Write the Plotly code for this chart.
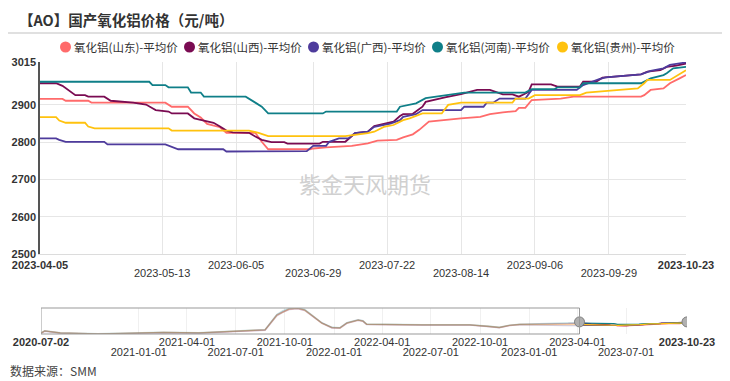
import plotly.graph_objects as go

# ---------------- main window data (2023-04-05 .. 2023-10-23) ----------------
sd_dates = ["2023-04-05","2023-04-12","2023-04-13","2023-04-20","2023-04-21","2023-05-14","2023-05-16","2023-05-21",
            "2023-05-23","2023-05-25","2023-05-27","2023-05-31","2023-06-02","2023-06-11","2023-06-13","2023-06-15",
            "2023-06-28","2023-06-29","2023-07-03","2023-07-11","2023-07-16","2023-07-19","2023-07-25","2023-07-27",
            "2023-07-30","2023-08-01","2023-08-04","2023-08-08","2023-08-14","2023-08-20","2023-08-23","2023-08-27",
            "2023-08-31","2023-09-01","2023-09-03","2023-09-05","2023-09-14","2023-09-18","2023-10-09","2023-10-10",
            "2023-10-12","2023-10-16","2023-10-18","2023-10-21","2023-10-23"]
sd_vals = [2916,2916,2911,2911,2906,2906,2895,2895,
           2877,2866,2849,2840,2825,2825,2801,2781,
           2781,2783,2786,2790,2797,2804,2806,2813,
           2821,2833,2855,2859,2864,2868,2875,2880,
           2883,2892,2892,2913,2917,2922,2922,2926,
           2940,2944,2958,2971,2980]

sx_dates = ["2023-04-05","2023-04-10","2023-04-12","2023-04-14","2023-04-16","2023-04-19","2023-04-20","2023-04-25",
            "2023-04-27","2023-05-04","2023-05-08","2023-05-10","2023-05-11","2023-05-15","2023-05-16","2023-05-21",
            "2023-05-23","2023-05-26","2023-05-29","2023-05-31","2023-06-02","2023-06-04","2023-06-09","2023-06-11",
            "2023-06-13","2023-06-16","2023-06-20","2023-06-21","2023-07-01","2023-07-02","2023-07-09","2023-07-12",
            "2023-07-16","2023-07-18","2023-07-22","2023-07-24","2023-07-26","2023-07-27","2023-07-30","2023-08-02",
            "2023-08-03","2023-08-06","2023-08-09","2023-08-14","2023-08-17","2023-08-19","2023-08-23","2023-08-25",
            "2023-08-27","2023-08-30","2023-09-01","2023-09-02","2023-09-04","2023-09-05","2023-09-11","2023-09-13",
            "2023-09-20","2023-09-21","2023-09-25","2023-09-27","2023-10-09","2023-10-11","2023-10-15","2023-10-17",
            "2023-10-20","2023-10-23"]
sx_vals = [2958,2958,2951,2938,2926,2926,2922,2922,
           2911,2906,2901,2891,2886,2882,2877,2877,
           2864,2858,2852,2842,2831,2826,2825,2815,
           2806,2800,2800,2796,2796,2801,2801,2824,
           2828,2843,2850,2855,2870,2875,2876,2895,
           2908,2913,2920,2929,2935,2940,2940,2934,
           2928,2928,2922,2926,2935,2955,2955,2949,
           2949,2962,2962,2973,2982,2989,2993,3002,
           3005,3011]

gx_dates = ["2023-04-05","2023-04-10","2023-04-11","2023-04-13","2023-04-25","2023-04-26","2023-05-14","2023-05-18",
            "2023-06-01","2023-06-02","2023-06-27","2023-06-29","2023-07-03","2023-07-04","2023-07-07","2023-07-10",
            "2023-07-12","2023-07-16","2023-07-18","2023-07-23","2023-07-26","2023-07-27","2023-07-31","2023-08-02",
            "2023-08-14","2023-08-15","2023-08-21","2023-08-22","2023-08-24","2023-08-26","2023-09-03","2023-09-05",
            "2023-09-19","2023-09-21","2023-09-26","2023-09-28","2023-10-09","2023-10-12","2023-10-16","2023-10-18",
            "2023-10-23"]
gx_vals = [2810,2810,2806,2801,2801,2794,2794,2781,
           2781,2775,2776,2790,2790,2801,2810,2810,
           2824,2828,2841,2850,2859,2868,2875,2886,
           2886,2895,2895,2906,2906,2917,2917,2940,
           2940,2953,2969,2974,2982,2991,2998,3007,
           3014]

hn_dates = ["2023-04-05","2023-05-09","2023-05-10","2023-05-14","2023-05-15","2023-05-21","2023-05-22","2023-05-25",
            "2023-05-26","2023-06-08","2023-06-11","2023-06-12","2023-06-13","2023-06-15","2023-07-02","2023-07-03",
            "2023-07-25","2023-07-26","2023-07-31","2023-08-03","2023-08-06","2023-08-10","2023-08-15","2023-09-03",
            "2023-09-05","2023-09-12","2023-09-13","2023-09-20","2023-09-21","2023-10-09","2023-10-12","2023-10-16",
            "2023-10-17","2023-10-19","2023-10-23"]
hn_vals = [2962,2962,2953,2953,2947,2947,2933,2933,
           2922,2922,2906,2900,2895,2877,2877,2882,
           2882,2895,2904,2918,2922,2928,2933,2933,
           2942,2942,2947,2947,2958,2958,2971,2980,
           2985,2998,3002]

gz_dates = ["2023-04-05","2023-04-10","2023-04-11","2023-04-13","2023-04-19","2023-04-20","2023-04-22","2023-05-15",
            "2023-05-16","2023-06-09","2023-06-12","2023-06-15","2023-07-09","2023-07-12","2023-07-16","2023-07-18",
            "2023-07-21","2023-07-24","2023-07-27","2023-07-29","2023-08-02","2023-08-08","2023-08-10","2023-08-14",
            "2023-08-30","2023-08-31","2023-09-04","2023-09-06","2023-09-20","2023-09-22","2023-10-08","2023-10-10",
            "2023-10-11","2023-10-18","2023-10-20","2023-10-23"]
gz_vals = [2867,2867,2858,2852,2852,2842,2837,2837,
           2831,2831,2825,2816,2816,2819,2824,2828,
           2841,2846,2859,2864,2877,2877,2900,2906,
           2906,2917,2917,2926,2926,2933,2944,2958,
           2967,2967,2978,2993]

# ---------------- overview (data-zoom) history, 2020-07-02 .. 2023-03 ----------------
hist_dates = ["2020-07-02","2020-07-09","2020-08-07","2020-10-16","2020-12-17","2021-02-16","2021-04-23","2021-06-24",
              "2021-07-28","2021-08-25","2021-09-16","2021-09-27","2021-10-09","2021-10-25","2021-11-07","2021-11-22",
              "2021-12-09","2021-12-28","2022-01-12","2022-01-25","2022-02-05","2022-02-15","2022-02-24","2022-03-03",
              "2022-06-15","2022-09-12","2022-10-19","2022-11-06","2022-11-25","2022-12-14","2023-03-15"]
sd_hist = [2330,2470,2350,2290,2330,2380,2350,2430,2500,2530,3420,3630,3800,3850,3740,3380,
           2960,2670,2650,2950,3030,3130,3070,2880,2840,2840,2740,2680,2810,2870,2890]
sx_hist = [2350,2480,2360,2300,2340,2390,2360,2440,2520,2550,3460,3660,3830,3870,3770,3400,
           2970,2690,2670,2970,3050,3150,3090,2890,2850,2850,2750,2690,2820,2880,2930]
gx_hist = [2320,2460,2340,2280,2320,2370,2340,2420,2490,2520,3400,3610,3780,3830,3730,3370,
           2950,2660,2640,2940,3020,3120,3060,2870,2830,2830,2730,2670,2800,2860,2800]
hn_hist = [2360,2490,2370,2310,2350,2400,2370,2450,2530,2560,3480,3700,3860,3910,3790,3420,
           2980,2700,2680,2980,3060,3160,3100,2900,2860,2860,2760,2700,2830,2890,2960]
gz_hist = [2340,2480,2350,2300,2340,2390,2360,2440,2510,2540,3440,3640,3810,3860,3750,3390,
           2960,2680,2660,2960,3040,3140,3080,2885,2845,2845,2745,2685,2815,2875,2870]

names = ["氧化铝(山东)-平均价", "氧化铝(山西)-平均价", "氧化铝(广西)-平均价", "氧化铝(河南)-平均价", "氧化铝(贵州)-平均价"]
colors = ["#FF6B6B", "#7A0B52", "#4E3B9C", "#0F7F88", "#FFC20E"]

main_ticks_row1 = ["2023-04-05", "2023-06-05", "2023-07-22", "2023-09-06", "2023-10-23"]
main_ticks_row2 = ["2023-05-13", "2023-06-29", "2023-08-14", "2023-09-29"]
y_ticks = [2500, 2600, 2700, 2800, 2900, 3015]
ov_ticks_row1 = ["2020-07-02", "2021-04-01", "2021-10-01", "2022-04-01", "2022-10-01", "2023-04-01", "2023-10-23"]
ov_ticks_row2 = ["2021-01-01", "2021-07-01", "2022-01-01", "2022-07-01", "2023-01-01", "2023-07-01"]

main_series = [(sd_dates, sd_vals), (sx_dates, sx_vals), (gx_dates, gx_vals), (hn_dates, hn_vals), (gz_dates, gz_vals)]
hist_series = [sd_hist, sx_hist, gx_hist, hn_hist, gz_hist]

# the page body adds an 8px margin; the figure is sized so that it fills the 730x381 window
OFF = 8
W, H = 730 - OFF, 381 - OFF
def px_x(p): return (p - OFF) / W          # window pixel -> paper x
def px_y(p): return 1 - (p - OFF) / H      # window pixel -> paper y

fig = go.Figure()
TICKFONT = "Liberation Sans, Arial, sans-serif"
CJK = "Noto Sans CJK SC, sans-serif"

# main lines
for (d, v), name, c in zip(main_series, names, colors):
    fig.add_trace(go.Scatter(x=d, y=v, mode="lines", line=dict(color=c, width=1.8),
                             name=name, showlegend=False, xaxis="x", yaxis="y", hoverinfo="skip"))
# overview faded history
for (d, v), h, c in zip(main_series, hist_series, colors):
    fig.add_trace(go.Scatter(x=hist_dates + [d[0]], y=h + [v[0]], mode="lines", opacity=0.25,
                             line=dict(color=c, width=1.4), showlegend=False,
                             xaxis="x2", yaxis="y2", hoverinfo="skip"))
# overview selected part
for (d, v), c in zip(main_series, colors):
    fig.add_trace(go.Scatter(x=d, y=v, mode="lines", line=dict(color=c, width=1.2), showlegend=False,
                             xaxis="x2", yaxis="y2", hoverinfo="skip"))
# handles
fig.add_trace(go.Scatter(x=["2023-04-05", "2023-10-23"], y=[3030, 3030], mode="markers",
                         marker=dict(symbol="circle", size=10, color="#b0b0b0", line=dict(color="#808080", width=1)),
                         showlegend=False, xaxis="x2", yaxis="y2", hoverinfo="skip"))
# anchors for the second-row label axes
fig.add_trace(go.Scatter(x=[main_ticks_row2[0]], y=[None], mode="lines", showlegend=False, xaxis="x3", yaxis="y", hoverinfo="skip"))
fig.add_trace(go.Scatter(x=[ov_ticks_row2[0]], y=[None], mode="lines", showlegend=False, xaxis="x4", yaxis="y2", hoverinfo="skip"))

def bold_ends(ticks):
    out = []
    for i, t in enumerate(ticks):
        out.append("<b>%s</b>" % t if i in (0, len(ticks) - 1) else t)
    return out

grid = "#e6e6e6"
main_dom_x = [px_x(40), px_x(686)]
ov_dom_x = [px_x(41), px_x(687)]
main_range = [main_ticks_row1[0], main_ticks_row1[-1]]
ov_range = [ov_ticks_row1[0], ov_ticks_row1[-1]]
tf = dict(family=TICKFONT, size=11, color="#333")
main_grid_vals = main_ticks_row1[1:-1] + main_ticks_row2

fig.update_layout(
    width=W, height=H, autosize=False,
    margin=dict(l=0, r=0, t=0, b=0, autoexpand=False),
    paper_bgcolor="white", plot_bgcolor="white",
    showlegend=False,
    xaxis=dict(domain=main_dom_x, anchor="y", type="date", range=main_range, automargin=False,
               tickmode="array", tickvals=main_ticks_row1, ticktext=bold_ends(main_ticks_row1),
               showgrid=False, showline=True, linecolor="#dcdcdc",
               minor=dict(tickmode="array", tickvals=main_grid_vals, showgrid=True, gridcolor=grid, ticks=""),
               ticks="", ticklabelstandoff=1, tickfont=tf, zeroline=False),
    xaxis3=dict(domain=main_dom_x, anchor="y", overlaying="x", type="date", range=main_range, automargin=False,
                tickmode="array", tickvals=main_ticks_row2, ticktext=main_ticks_row2,
                showgrid=False, showline=False, ticks="", ticklabelstandoff=11,
                tickfont=tf, zeroline=False),
    yaxis=dict(domain=[px_y(254), px_y(62)], anchor="x", range=[2500, 3015], automargin=False,
               tickmode="array", tickvals=y_ticks, ticktext=["<b>%d</b>" % t for t in y_ticks],
               showgrid=True, gridcolor=grid, showline=True, linecolor="#555", linewidth=1.5,
               ticks="", tickfont=tf, zeroline=False),
    xaxis2=dict(domain=ov_dom_x, anchor="y2", type="date", range=ov_range, automargin=False,
                tickmode="array", tickvals=ov_ticks_row1, ticktext=bold_ends(ov_ticks_row1),
                showgrid=True, gridcolor="#f0f0f0", showline=False, ticks="",
                tickfont=tf, zeroline=False),
    xaxis4=dict(domain=ov_dom_x, anchor="y2", overlaying="x2", type="date", range=ov_range, automargin=False,
                tickmode="array", tickvals=ov_ticks_row2, ticktext=ov_ticks_row2,
                showgrid=True, gridcolor="#f0f0f0", showline=False, ticks="", ticklabelstandoff=10,
                tickfont=tf, zeroline=False),
    yaxis2=dict(domain=[px_y(334), px_y(308)], anchor="x2", range=[2290, 3880], automargin=False,
                showticklabels=False, showgrid=False, zeroline=False, showline=False),
)

# legend row: round colour keys followed by the series names
legend_cx = [65.5, 189.5, 313.5, 437.5, 562.5]
for cx, name, c in zip(legend_cx, names, colors):
    fig.add_shape(type="circle", xref="paper", yref="paper",
                  x0=px_x(cx - 5.5), x1=px_x(cx + 5.5), y0=px_y(47 + 5.5), y1=px_y(47 - 5.5),
                  fillcolor=c, line=dict(width=0))
    fig.add_annotation(text=name, xref="paper", yref="paper", x=px_x(cx + 6.5), y=px_y(47),
                       xanchor="left", yanchor="middle", showarrow=False,
                       font=dict(family=CJK, size=11.5, color="#333"))

# title, separator, watermark, source
fig.add_annotation(text="<b>【AO】国产氧化铝价格（元/吨）</b>", xref="paper", yref="paper",
                   x=px_x(17), y=px_y(19), xanchor="left", yanchor="middle", showarrow=False,
                   font=dict(family=CJK, size=14.5, color="#333"))
fig.add_shape(type="line", xref="paper", yref="paper", x0=0, x1=px_x(722), y0=px_y(33), y1=px_y(33),
              line=dict(color="#e0e0e0", width=2))
fig.add_annotation(text="紫金天风期货", xref="paper", yref="paper", x=px_x(365), y=px_y(183),
                   xanchor="center", yanchor="middle", showarrow=False,
                   font=dict(family=CJK, size=22, color="#d0d0d0"))
fig.add_annotation(text="数据来源：SMM", xref="paper", yref="paper", x=0, y=px_y(370),
                   xanchor="left", yanchor="middle", showarrow=False,
                   font=dict(family=CJK, size=12, color="#444"))
# data-zoom box over the unselected span
fig.add_shape(type="rect", xref="x2", yref="y2 domain", x0=ov_ticks_row1[0], x1="2023-04-05", y0=0, y1=1,
              line=dict(color="#999", width=1), fillcolor="rgba(0,0,0,0)")

fig.write_html("out.html")
